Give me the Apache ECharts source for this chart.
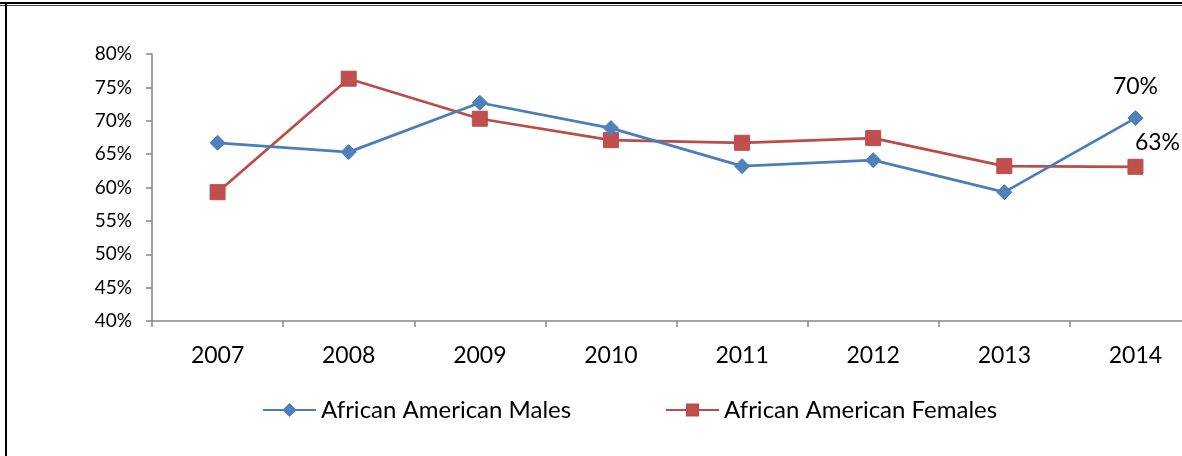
<!DOCTYPE html>
<html>
<head>
<meta charset="utf-8">
<script src="https://cdn.jsdelivr.net/npm/echarts@6/dist/echarts.min.js"></script>
<style>
  html, body { margin: 0; padding: 0; background: #fff; overflow: hidden; width: 1182px; height: 456px; }
  #wrap { position: absolute; left: 0; top: 0; width: 1182px; height: 456px; overflow: hidden; }
  #chart { position: absolute; left: 0; top: 0; width: 1240px; height: 456px; }
  #topline1 { position: absolute; left: 0; top: 2px; width: 1182px; height: 2px; background: #000; z-index: 5; }
  #topline2 { position: absolute; left: 0; top: 5px; width: 1182px; height: 1px; background: #444; z-index: 5; }
  #leftline { position: absolute; left: 5px; top: 4px; width: 2px; height: 452px; background: #000; z-index: 5; }
  #cover { position: absolute; left: 1166px; top: 7px; width: 16px; height: 30px; background: #fff; z-index: 6; }
</style>
</head>
<body>
<div id="wrap">
  <div id="chart"></div>
  <div id="topline1"></div>
  <div id="topline2"></div>
  <div id="leftline"></div>
  <div id="cover"></div>
</div>
<script>
const years = ['2007', '2008', '2009', '2010', '2011', '2012', '2013', '2014'];
const males = [66.7, 65.3, 72.7, 68.9, 63.2, 64.1, 59.3, 70.4];
const females = [59.3, 76.3, 70.3, 67.1, 66.7, 67.4, 63.2, 63.1];
const maleName = 'African American Males';
const femaleName = 'African American Females';
const yTicks = { min: 40, max: 80, step: 5 };

const font = 'Lato, "Open Sans", sans-serif';
const axisGray = '#868686';

function withLastLabel(arr, labelCfg) {
  return arr.map((v, i) => i === arr.length - 1
    ? { value: v, label: Object.assign({ show: true, formatter: Math.round(v) + '%', color: '#000', fontFamily: font, fontSize: 23 }, labelCfg) }
    : v);
}

const chart = echarts.init(document.getElementById('chart'), null, { renderer: 'canvas' });
chart.setOption({
  animation: false,
  backgroundColor: '#fff',
  grid: { left: 152, top: 54, width: 1049, height: 267, containLabel: false },
  legend: [
    {
      data: [maleName], left: 262, top: 398, padding: 0, itemWidth: 53, itemHeight: 14, itemGap: 0,
      textStyle: { fontFamily: font, fontSize: 24, color: '#000' }
    },
    {
      data: [femaleName], left: 665, top: 398, padding: 0, itemWidth: 53, itemHeight: 14, itemGap: 0,
      textStyle: { fontFamily: font, fontSize: 24, color: '#000' }
    }
  ],
  xAxis: {
    type: 'category',
    data: years,
    boundaryGap: true,
    axisLine: { show: true, lineStyle: { color: axisGray, width: 1.5 } },
    axisTick: { show: true, interval: 0, length: 6, lineStyle: { color: axisGray, width: 1.5 } },
    axisLabel: { color: '#000', fontFamily: font, fontSize: 23, margin: 23, interval: 0 },
    splitLine: { show: false }
  },
  yAxis: {
    type: 'value',
    min: yTicks.min, max: yTicks.max, interval: yTicks.step,
    axisLine: { show: true, lineStyle: { color: axisGray, width: 1.5 } },
    axisTick: { show: true, length: 6, lineStyle: { color: axisGray, width: 1.5 } },
    axisLabel: { color: '#000', fontFamily: font, fontSize: 19, margin: 20, formatter: '{value}%' },
    splitLine: { show: false }
  },
  series: [
    {
      name: maleName, type: 'line', data: withLastLabel(males, { position: 'top', distance: 12 }),
      symbol: 'diamond', symbolSize: 15, showAllSymbol: true,
      lineStyle: { color: '#4A7EBB', width: 2.75 },
      itemStyle: { color: '#4F81BD', borderColor: '#4A7EBB', borderWidth: 1 },
      z: 3
    },
    {
      name: femaleName, type: 'line', data: withLastLabel(females, { position: 'top', distance: 5, offset: [22, 0] }),
      symbol: 'rect', symbolSize: 15, showAllSymbol: true,
      lineStyle: { color: '#BE4B48', width: 2.75 },
      itemStyle: { color: '#C0504D', borderColor: '#BE4B48', borderWidth: 1 },
      z: 2
    }
  ]
});
</script>
</body>
</html>
